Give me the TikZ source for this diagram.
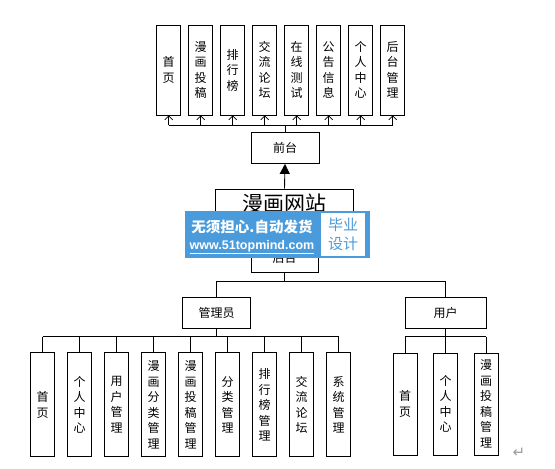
\documentclass[tikz,border=0pt]{standalone}
\usepackage{fontspec}
\setmainfont{Liberation Sans}
\newfontfamily\cjk{Noto Sans CJK SC}
\newfontfamily\djv{DejaVu Sans}
\usetikzlibrary{arrows.meta}
\definecolor{wmblue}{RGB}{74,155,219}
\tikzset{
  vbox/.style={draw=black, line width=0.8pt, fill=white, minimum width=24pt, inner sep=0pt, align=center, font=\cjk\fontsize{12}{15.5}\selectfont},
  hbox/.style={draw=black, line width=0.8pt, fill=white, inner sep=0pt, align=center, font=\cjk\fontsize{12}{15}\selectfont},
  conn/.style={line width=0.8pt},
  openarr/.style={line width=0.8pt, -{Straight Barb[length=4pt,width=8pt,line width=0.7pt]}},
}
\begin{document}
\begin{tikzpicture}[x=1pt,y=-1pt]
\useasboundingbox (0,0) rectangle (555,469);
% top boxes
\foreach \n/\t [count=\i from 0] in {t1/首\\页, t2/漫\\画\\投\\稿, t3/排\\行\\榜, t4/交\\流\\论\\坛, t5/在\\线\\测\\试, t6/公\\告\\信\\息, t7/个\\人\\中\\心, t8/后\\台\\管\\理}{
  \node[vbox, minimum height=90pt] (\n) at ({168.7+32.0*\i},70) {\t};
}
\node[hbox, minimum width=68pt, minimum height=31pt] (qt) at (285,148) {前台};
\coordinate (qtb) at (285,125);
\draw[conn] (qt.north) -- (qtb);
\foreach \n in {t1,t2,t3,t4,t5,t6,t7,t8}{
  \draw[openarr] (qtb -| \n.south) -- (\n.south);
}
\draw[conn] (qtb -| t1.south) -- (qtb -| t8.south);
% site
\node[hbox, minimum width=138pt, minimum height=30pt, anchor=north, font=\cjk\fontsize{21}{21}\selectfont] (site) at (284.5,188.5) {漫画网站};
\draw[line width=0.9pt, -{Triangle[length=10pt,width=10pt]}] (site.north) -- (qt.south);
\node[hbox, minimum width=67pt, minimum height=30pt, anchor=south] (ht) at (284.5,273) {后台};
\draw[conn] (site.south) -- (ht.north);
% second level
\node[hbox, minimum width=68pt, minimum height=31pt] (gly) at (216.7,312.5) {管理员};
\node[hbox, minimum width=81pt, minimum height=31pt] (yh) at (445.5,312.5) {用户};
\coordinate (b2) at (284.5,281);
\draw[conn] (ht.south) -- (b2);
\draw[conn] (gly.north) |- (b2 -| yh.north) -- (yh.north);
% admin children
\foreach \n/\t [count=\i from 0] in {a1/首\\页, a2/个\\人\\中\\心, a3/用\\户\\管\\理, a4/漫\\画\\分\\类\\管\\理, a5/漫\\画\\投\\稿\\管\\理, a6/分\\类\\管\\理, a7/排\\行\\榜\\管\\理, a8/交\\流\\论\\坛, a9/系\\统\\管\\理}{
  \node[vbox, minimum height=104pt] (\n) at ({42.5+37.0*\i},404.8) {\t};
}
\coordinate (b3) at (216.7,336.7);
\draw[conn] (gly.south) -- (b3);
\draw[conn] (b3 -| a1.north) -- (b3 -| a9.north);
\foreach \n in {a1,a2,a3,a4,a5,a6,a7,a8,a9}{
  \draw[conn] (b3 -| \n.north) -- (\n.north);
}
% user children
\foreach \n/\t [count=\i from 0] in {u1/首\\页, u2/个\\人\\中\\心, u3/漫\\画\\投\\稿\\管\\理}{
  \node[vbox, minimum height=102pt] (\n) at ({405+40.5*\i},404) {\t};
}
\coordinate (b4) at (445.5,336.7);
\draw[conn] (yh.south) -- (b4);
\draw[conn] (b4 -| u1.north) -- (b4 -| u3.north);
\foreach \n in {u1,u2,u3}{
  \draw[conn] (b4 -| \n.north) -- (\n.north);
}
% return mark
\node[text=black!40, font=\djv\fontsize{15}{15}\selectfont] (ret) at (519,453) {↵};
% watermark
\node[fill=wmblue, minimum width=185pt, minimum height=47pt, inner sep=0pt, anchor=north west] (wm) at (185,211) {};
\node[fill=white, minimum width=44pt, minimum height=43pt, inner sep=0pt, anchor=north west, text=wmblue, align=center, font=\cjk\fontsize{15}{19}\selectfont] (wm2) at (321,213) {毕业\\设计};
\node[text=white, font=\cjk\bfseries\fontsize{14.5}{15}\selectfont, inner sep=0pt] (wm3) at (252,227) {无须担心.自动发货};
\node[text=white, font=\bfseries\fontsize{12.5}{13}\selectfont, inner sep=0pt] (wm4) at (252,247) {\underline{www.51topmind.com}};
\end{tikzpicture}
\end{document}
